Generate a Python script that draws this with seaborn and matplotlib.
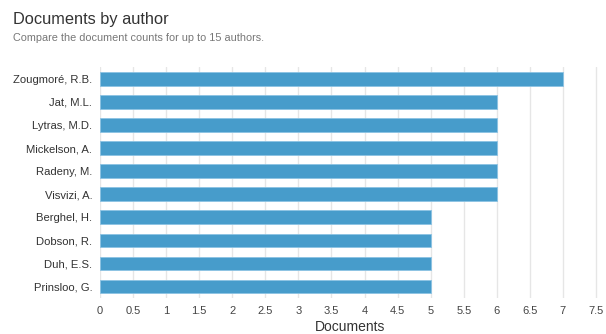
import matplotlib
matplotlib.use("Agg")
import matplotlib.pyplot as plt
import seaborn as sns
import pandas as pd
import numpy as np

authors = ["Zougmoré, R.B.", "Jat, M.L.", "Lytras, M.D.", "Mickelson, A.", "Radeny, M.",
           "Visvizi, A.", "Berghel, H.", "Dobson, R.", "Duh, E.S.", "Prinsloo, G."]
documents = [7, 6, 6, 6, 6, 6, 5, 5, 5, 5]
xticks = [0, 0.5, 1, 1.5, 2, 2.5, 3, 3.5, 4, 4.5, 5, 5.5, 6, 6.5, 7, 7.5]

df = pd.DataFrame({"author": authors, "documents": documents})

sns.set_theme(style="white")
plt.rcParams["font.family"] = ["Liberation Sans", "DejaVu Sans"]

fig = plt.figure(figsize=(6.06, 3.34), dpi=100)
ax = fig.add_axes([0.165, 0.109, 0.824, 0.689])

sns.barplot(data=df, x="documents", y="author", ax=ax, color="#479ccb",
            saturation=1, width=0.57, orient="h", zorder=3,
            edgecolor="#8cc3e3", linewidth=0.6)

ax.set_xlim(0, 7.55)
ax.set_xticks(xticks)
ax.set_xticklabels([f"{t:g}" for t in xticks], fontsize=8, color="#444444")
ax.tick_params(axis="y", labelsize=8.1, labelcolor="#333333", length=0, pad=5.5)
ax.tick_params(axis="x", length=0, pad=6)
ax.grid(axis="x", color="#e6e6e6", linewidth=1, zorder=0)
ax.set_axisbelow(True)
for s in ax.spines.values():
    s.set_visible(False)
ax.set_ylabel("")
ax.set_xlabel("Documents", fontsize=10, color="#333333", labelpad=3)

fig.text(0.021, 0.928, "Documents by author", fontsize=11.8, color="#333333")
fig.text(0.021, 0.878, "Compare the document counts for up to 15 authors.", fontsize=7.8, color="#777777")

fig.savefig("out.png", dpi=100)
